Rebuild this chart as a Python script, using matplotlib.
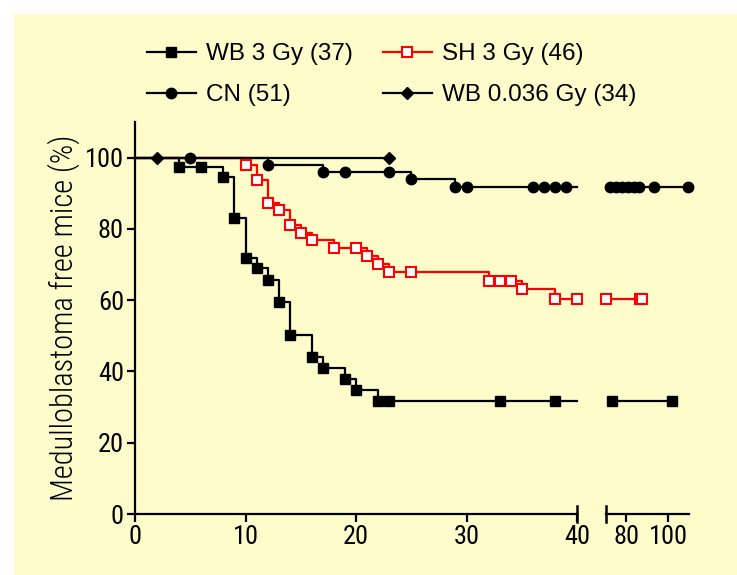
import matplotlib
matplotlib.use("Agg")
import matplotlib.pyplot as plt
from matplotlib import font_manager
from matplotlib.patches import Rectangle
from matplotlib.lines import Line2D

# survival data (time in weeks, % medulloblastoma free)
wb3_t = [4, 6, 8, 9, 10, 11, 12, 13, 14, 16, 17, 19, 20, 22, 23, 33, 38]
wb3_s = [97.3, 97.3, 94.6, 83.1, 71.9, 69.0, 65.8, 59.4, 50.3, 44.1, 41.0, 37.8, 34.7, 31.7, 31.7, 31.7, 31.7]
wb3_t_late = [73, 102]
wb3_s_late = [31.7, 31.7]

sh3_t = [10, 11, 12, 13, 14, 15, 16, 18, 20, 21, 22, 23, 25, 32, 33, 34, 35, 38, 40]
sh3_s = [97.9, 93.8, 87.3, 85.2, 81.0, 78.9, 76.8, 74.6, 74.6, 72.4, 70.1, 67.8, 67.8, 65.5, 65.5, 65.5, 63.0, 60.2, 60.2]
sh3_t_late = [70.2, 86.5, 87.5]
sh3_s_late = [60.2, 60.2, 60.2]

cn_t = [5, 12, 17, 19, 23, 25, 29, 30, 36, 37, 38, 39]
cn_s = [100, 98.0, 96.1, 96.1, 96.1, 94.0, 91.9, 91.9, 91.9, 91.9, 91.9, 91.9]
cn_t_late = [72, 75, 78, 81, 83.5, 86, 93, 109.5]
cn_s_late = [91.9] * 8

wb036_t = [2, 23]
wb036_s = [100, 100]

labels = ["WB 3 Gy (37)", "CN (51)", "SH 3 Gy (46)", "WB 0.036 Gy (34)"]
yticks = [0, 20, 40, 60, 80, 100]

available = {f.name for f in font_manager.fontManager.ttflist}
narrow = "DejaVu Sans"
for cand in ["Roboto Condensed", "Liberation Sans Narrow", "Archivo Narrow", "DejaVu Sans Condensed"]:
    if cand in available:
        narrow = cand
        break
plt.rcParams["font.family"] = ["Liberation Sans", "DejaVu Sans"]

W, H = 737, 575
fig = plt.figure(figsize=(W / 100, H / 100), dpi=100, facecolor="white")
fig.patches.append(Rectangle((14 / W, 0), 1, 1 - 14 / H, transform=fig.transFigure,
                             facecolor="#FEFCCB", edgecolor="none", zorder=-10))

bottom = 1 - 514 / H
height = (514 - 122) / H
ax1 = fig.add_axes([135 / W, bottom, (577 - 135) / W, height])
ax2 = fig.add_axes([605.5 / W, bottom, (689 - 605.5) / W, height])

break_x = 40

styles = {
    "wb3": dict(color="black", marker="s", ms=7, mfc="black", mec="black"),
    "cn": dict(color="black", marker="o", ms=7.5, mfc="black", mec="black"),
    "sh3": dict(color="red", marker="s", ms=7.5, mfc="white", mec="red", mew=1.5),
    "wb036": dict(color="black", marker="D", ms=6.5, mfc="black", mec="black"),
}

def km_line(ax, t, s, style, extend=True, start=True):
    xs = list(t)
    ys = list(s)
    if start:
        xs = [0] + xs
        ys = [100] + ys
    if extend:
        xs = xs + [break_x]
        ys = ys + [ys[-1]]
    ax.plot(xs, ys, drawstyle="steps-post", color=style["color"], lw=1.6, clip_on=False, zorder=2)
    ax.plot(t, s, ls="none", clip_on=False, zorder=3,
            **{k: v for k, v in style.items() if k != "color"})

km_line(ax1, sh3_t, sh3_s, styles["sh3"], extend=False)
km_line(ax1, wb036_t, wb036_s, styles["wb036"], extend=False)
km_line(ax1, cn_t, cn_s, styles["cn"])
km_line(ax1, wb3_t, wb3_s, styles["wb3"])

km_line(ax2, sh3_t_late, sh3_s_late, styles["sh3"], extend=False, start=False)
km_line(ax2, cn_t_late, cn_s_late, styles["cn"], extend=False, start=False)
km_line(ax2, wb3_t_late, wb3_s_late, styles["wb3"], extend=False, start=False)

ax1.set_xlim(0, 40)
ax2.set_xlim(70, 110)
ax1.set_xticks([0, 10, 20, 30, 40])
ax1.set_yticks(yticks)
ax2.set_xticks([80, 100])
for ax in (ax1, ax2):
    ax.set_ylim(0, 110)
    ax.set_facecolor("none")
    for side in ("top", "right"):
        ax.spines[side].set_visible(False)
    ax.spines["bottom"].set_linewidth(1.6)
    ax.spines["left"].set_linewidth(1.6)
    ax.tick_params(width=1.6, length=6, labelsize=19, pad=2)
ax2.spines["left"].set_visible(False)
ax2.tick_params(axis="y", left=False, labelleft=False)
for lab in ax1.get_xticklabels() + ax1.get_yticklabels() + ax2.get_xticklabels():
    lab.set_fontfamily(narrow)

# break marks at the ends of the two x-axis pieces
ax1.plot([1, 1], [-0.02, 0.02], transform=ax1.transAxes, color="black", lw=1.8, clip_on=False)
ax2.plot([0, 0], [-0.02, 0.02], transform=ax2.transAxes, color="black", lw=1.8, clip_on=False)

ax1.set_ylabel("Medulloblastoma free mice (%)", fontsize=22, fontfamily=narrow, fontweight="light")
ax1.yaxis.set_label_coords(-(135 - 80) / (577 - 135), 0.5)

handles = [
    Line2D([], [], lw=1.6, **styles["wb3"]),
    Line2D([], [], lw=1.6, **styles["cn"]),
    Line2D([], [], lw=1.6, **styles["sh3"]),
    Line2D([], [], lw=1.6, **styles["wb036"]),
]
fig.legend(handles, labels, loc="upper left", bbox_to_anchor=(147 / W, 1 - 43 / H),
           ncol=2, frameon=False, fontsize=17.5, handlelength=2.0, handletextpad=0.42,
           columnspacing=1.25, labelspacing=0.8, borderpad=0, borderaxespad=0)

fig.savefig("out.png", dpi=100, facecolor=fig.get_facecolor())
